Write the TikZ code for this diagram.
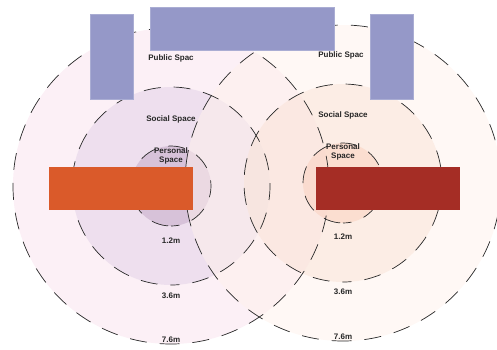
\documentclass[tikz,border=0pt]{standalone}
\usepackage{fontspec}
\usetikzlibrary{calc}
\setmainfont{Liberation Sans}
\definecolor{lpub}{RGB}{249,225,237}
\definecolor{lsoc}{RGB}{224,208,230}
\definecolor{lper}{RGB}{194,166,198}
\definecolor{rpub}{RGB}{255,241,235}
\definecolor{rsoc}{RGB}{249,226,213}
\definecolor{rper}{RGB}{250,207,189}
\definecolor{blueblk}{RGB}{149,152,200}
\definecolor{orangeblk}{RGB}{218,90,42}
\definecolor{redblk}{RGB}{165,45,37}
\definecolor{dashcol}{RGB}{40,40,40}
\tikzset{
  zone/.style={fill opacity=0.5},
  ring/.style={draw=dashcol, line width=0.7pt, dash pattern=on 17pt off 13pt, dash phase=8.5pt},
  lbl/.style={font=\bfseries\fontsize{8}{8.5}\selectfont, text=black!85, align=center, inner sep=0pt},
  blk/.style={draw=blueblk!80!white, line width=0.5pt, fill=blueblk}
}
\begin{document}
\begin{tikzpicture}[x=1pt,y=-1pt]
\useasboundingbox (0,0) rectangle (497,349);
\clip (0,0) rectangle (497,349);
\coordinate (lc) at (171,186);
\coordinate (rc) at (343,183);
% zone fills
\fill[zone, fill=lpub] (lc) circle[radius=158pt];
\fill[zone, fill=lsoc] (lc) circle[radius=99pt];
\fill[zone, fill=lper] (lc) circle[radius=40pt];
\fill[zone, fill=rpub] (rc) circle[radius=158pt];
\fill[zone, fill=rsoc] (rc) circle[radius=99pt];
\fill[zone, fill=rper] (rc) circle[radius=40pt];
% dashed outlines, dashes centred at the bottom
\foreach \c in {lc,rc}{
  \foreach \r in {158,99,40}{
    \draw[ring] ($(\c)+(0,\r)$) arc[start angle=270, end angle=630, radius=\r pt];
  }
}
% labels
\node[lbl] (lpubl) at (171,58) {Public Spac};
\node[lbl] (rpubl) at (341,55) {Public Spac};
\node[lbl] (lsocl) at (171,119) {Social Space};
\node[lbl] (rsocl) at (343,115) {Social Space};
\node[lbl] (lperl) at (171,156) {Personal\\Space};
\node[lbl] (rperl) at (343,152) {Personal\\Space};
\node[lbl] (l12) at (171,241) {1.2m};
\node[lbl] (r12) at (343,237) {1.2m};
\node[lbl] (l36) at (171,296) {3.6m};
\node[lbl] (r36) at (343,292) {3.6m};
\node[lbl] (l76) at (171,340) {7.6m};
\node[lbl] (r76) at (343,337) {7.6m};
% blocks
\node[blk, inner sep=0pt, minimum width=43pt, minimum height=85pt] (bl) at (111.5,56.5) {};
\node[blk, inner sep=0pt, minimum width=184pt, minimum height=43pt] (bt) at (242,28.5) {};
\node[blk, inner sep=0pt, minimum width=43pt, minimum height=85pt] (br) at (391.5,56.5) {};
\node[fill=orangeblk, inner sep=0pt, minimum width=144pt, minimum height=43pt] (ob) at (121,188.5) {};
\node[fill=redblk, inner sep=0pt, minimum width=144pt, minimum height=43pt] (rb) at (388,188.5) {};
\end{tikzpicture}
\end{document}
